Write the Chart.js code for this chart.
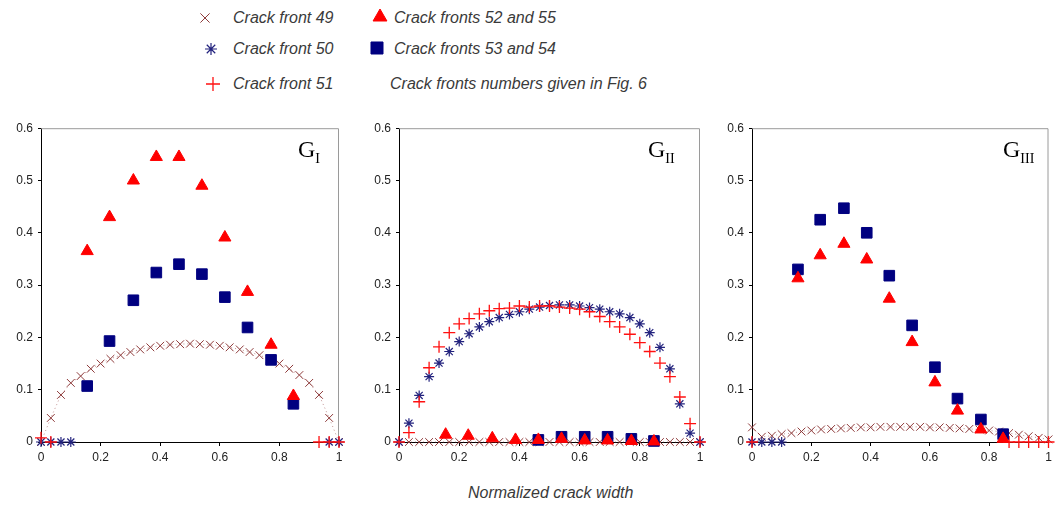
<!DOCTYPE html>
<html>
<head>
<meta charset="utf-8">
<script src="https://cdn.jsdelivr.net/npm/chart.js@4.4.1/dist/chart.umd.min.js"></script>
<style>
  body { margin: 0; background: #fff; width: 1058px; height: 506px; position: relative; overflow: hidden;
         font-family: Arial, 'Liberation Sans', sans-serif; }
  .panel { position: absolute; }
  .lg { position: absolute; font-style: italic; font-size: 16px; color: #3a3a3a; white-space: nowrap; line-height: 18px; }
  .sym { position: absolute; }
  .gt { position: absolute; font-family: 'Liberation Serif', 'Times New Roman', serif; font-size: 24px;
        color: #000; line-height: 1; white-space: nowrap; }
  .gt span { font-size: 14px; position: relative; top: 6px; }
  .xt { position: absolute; left: 468px; top: 484px; font-size: 16px; color: #3a3a3a; font-style: italic; }
</style>
</head>
<body>

<canvas class="sym" id="s49" width="20" height="20" style="left:195px;top:8px"></canvas>
<div class="lg" style="left:233px;top:9px">Crack front 49</div>
<canvas class="sym" id="s50" width="20" height="20" style="left:201px;top:39px"></canvas>
<div class="lg" style="left:233px;top:40px">Crack front 50</div>
<canvas class="sym" id="s51" width="24" height="24" style="left:201px;top:72px"></canvas>
<div class="lg" style="left:233px;top:75px">Crack front 51</div>
<canvas class="sym" id="s52" width="20" height="20" style="left:370px;top:7px"></canvas>
<div class="lg" style="left:394px;top:9px">Crack fronts 52 and 55</div>
<canvas class="sym" id="s53" width="20" height="20" style="left:367px;top:38px"></canvas>
<div class="lg" style="left:394px;top:40px">Crack fronts 53 and 54</div>
<div class="lg" style="left:390px;top:75px">Crack fronts numbers given in Fig. 6</div>

<div class="panel" id="p1"><canvas id="c1"></canvas></div>
<div class="panel" id="p2"><canvas id="c2"></canvas></div>
<div class="panel" id="p3"><canvas id="c3"></canvas></div>

<div class="gt" style="left:298px;top:137px">G<span>I</span></div>
<div class="gt" style="left:648px;top:137px">G<span>II</span></div>
<div class="gt" style="left:1003px;top:137px">G<span>III</span></div>

<div class="xt">Normalized crack width</div>

<script>
/* ── x positions along the normalized crack width ───────── */
const X_FRONT = [0, 0.033, 0.067, 0.1, 0.133, 0.167, 0.2, 0.233, 0.267, 0.3, 0.333, 0.367, 0.4, 0.433, 0.467,
                 0.5, 0.533, 0.567, 0.6, 0.633, 0.667, 0.7, 0.733, 0.767, 0.8, 0.833, 0.867, 0.9, 0.933, 0.967, 1];
const X_PAIR  = [0.155, 0.23, 0.31, 0.387, 0.463, 0.54, 0.617, 0.693, 0.772, 0.847];

const X_TICKS = [0, 0.2, 0.4, 0.6, 0.8, 1];
const Y_TICKS = [0, 0.1, 0.2, 0.3, 0.4, 0.5, 0.6];

/* ── G_I ─────────────────────────────────────────────────── */
const gI_f49 = [0, 0.046, 0.09, 0.113, 0.126, 0.14, 0.15, 0.159, 0.166, 0.172, 0.177, 0.181, 0.184, 0.186, 0.187,
                0.188, 0.187, 0.186, 0.184, 0.181, 0.177, 0.172, 0.166, 0.159, 0.15, 0.14, 0.128, 0.113, 0.09, 0.046, 0];
const gI_f50_x = [0, 0.033, 0.067, 0.1, 0.967, 1];
const gI_f50   = [0, 0, 0, 0, 0, 0];
const gI_f51_x = [0, 0.033, 0.933, 0.967, 1];
const gI_f51   = [0.008, 0, 0, 0, 0];
const gI_tri = [0.365, 0.43, 0.50, 0.545, 0.545, 0.49, 0.391, 0.287, 0.186, 0.088];
const gI_sq  = [0.107, 0.193, 0.271, 0.324, 0.34, 0.321, 0.277, 0.219, 0.157, 0.073];

/* ── G_II ────────────────────────────────────────────────── */
const gII_f49 = [0, 0, 0, 0, 0, 0, 0, 0, 0, 0, 0, 0, 0, 0, 0, 0, 0, 0, 0, 0, 0, 0, 0, 0, 0, 0, 0, 0, 0, 0, 0];
const gII_f50 = [0, 0.036, 0.089, 0.125, 0.151, 0.173, 0.192, 0.207, 0.220, 0.230, 0.238, 0.244, 0.249, 0.254, 0.258,
                 0.261, 0.262, 0.262, 0.260, 0.257, 0.254, 0.249, 0.245, 0.238, 0.226, 0.209, 0.181, 0.140, 0.073, 0.017, 0];
const gII_f51 = [0, 0.018, 0.077, 0.142, 0.182, 0.209, 0.226, 0.236, 0.245, 0.251, 0.255, 0.256, 0.26, 0.258, 0.26,
                 0.26, 0.258, 0.256, 0.254, 0.249, 0.24, 0.23, 0.22, 0.206, 0.19, 0.173, 0.151, 0.125, 0.086, 0.035, 0];
const gII_tri = [0.014, 0.012, 0.007, 0.004, 0.004, 0.006, 0.003, 0.003, 0.002, 0.001];
const gII_sq_x = [0.463, 0.54, 0.617, 0.693, 0.772, 0.847];
const gII_sq   = [0.004, 0.01, 0.01, 0.01, 0.006, 0.002];

/* ── G_III ───────────────────────────────────────────────── */
const gIII_f49 = [0.028, 0.01, 0.012, 0.015, 0.017, 0.02, 0.022, 0.024, 0.025, 0.026, 0.027, 0.028, 0.028, 0.029, 0.029,
                  0.029, 0.029, 0.029, 0.028, 0.028, 0.027, 0.026, 0.025, 0.024, 0.022, 0.02, 0.017, 0.014, 0.011, 0.008, 0.005];
const gIII_f50_x = [0, 0.033, 0.067, 0.1];
const gIII_f50   = [0, 0, 0, 0];
const gIII_f51_x = [0, 0.867, 0.9, 0.933, 0.967, 1];
const gIII_f51   = [0, 0, 0, 0, 0, 0];
const gIII_tri = [0.313, 0.357, 0.379, 0.349, 0.274, 0.191, 0.114, 0.06, 0.024, 0.006];
const gIII_sq  = [0.33, 0.425, 0.447, 0.4, 0.318, 0.223, 0.143, 0.083, 0.043, 0.015];

/* ── marker styles ───────────────────────────────────────── */
const STYLE = {
  f49: { pointStyle: 'crossRot', radius: 5.5, color: '#8e3b3b', fill: false, bw: 1 },
  f50: { pointStyle: 'star',     radius: 5,   color: '#23237e', fill: false, bw: 1.2 },
  f51: { pointStyle: 'cross',    radius: 6,   color: '#ff1010', fill: false, bw: 1.3 },
  tri: { pointStyle: 'triangle', radius: 7,   color: '#ff0000', fill: true,  bw: 1 },
  sq:  { pointStyle: 'rect',     radius: 7.5, color: '#000080', fill: true,  bw: 1 },
};

const zip = (xs, ys) => xs.map((x, i) => ({ x, y: ys[i] }));

function ds(key, xs, ys, line) {
  const s = STYLE[key];
  return {
    data: zip(xs, ys),
    pointStyle: s.pointStyle,
    pointRadius: s.radius,
    pointBorderColor: s.color,
    pointBackgroundColor: s.fill ? s.color : 'transparent',
    pointBorderWidth: s.bw,
    showLine: !!line,
    borderColor: 'rgba(142,59,59,.55)',
    borderWidth: 1,
    borderDash: [1, 3],
    clip: false,
  };
}

/* gray frame on top and right of plot area */
const frame = {
  id: 'frame',
  beforeDatasetsDraw(chart) {
    const a = chart.chartArea, c = chart.ctx;
    c.save();
    c.strokeStyle = '#9a9a9a';
    c.lineWidth = 1;
    c.beginPath();
    c.moveTo(a.left, a.top + 0.5);
    c.lineTo(a.right - 0.5, a.top + 0.5);
    c.lineTo(a.right - 0.5, a.bottom);
    c.stroke();
    c.restore();
  },
};

const fmt = v => {
  const r = Math.round(v * 10) / 10;
  return (r === 0 || r === 1) ? String(r) : r.toFixed(1);
};

function makePanel(wrapId, canvasId, left, right, padRight, datasets) {
  const YW = 40, XH = 34, TOP = 10;
  const wrap = document.getElementById(wrapId);
  wrap.style.left   = (left - YW) + 'px';
  wrap.style.top    = (126 - TOP) + 'px';
  wrap.style.width  = (right - left + YW + padRight) + 'px';
  wrap.style.height = (442 - 126 + TOP + XH) + 'px';

  new Chart(document.getElementById(canvasId), {
    type: 'scatter',
    data: { datasets },
    options: {
      responsive: true,
      maintainAspectRatio: false,
      animation: false,
      layout: { padding: { top: TOP, right: padRight, left: 0, bottom: 0 } },
      plugins: { legend: { display: false }, tooltip: { enabled: false } },
      scales: {
        x: {
          type: 'linear', min: 0, max: 1,
          afterBuildTicks: s => { s.ticks = X_TICKS.map(v => ({ value: v })); },
          afterFit: s => { s.height = XH; },
          grid: { drawOnChartArea: false, drawTicks: true, tickLength: 4, color: '#000' },
          border: { display: true, color: '#000', width: 1 },
          ticks: { color: '#222', font: { size: 12, family: 'Arial' }, padding: 4, callback: fmt, maxRotation: 0 },
        },
        y: {
          type: 'linear', min: 0, max: 0.6,
          afterBuildTicks: s => { s.ticks = Y_TICKS.map(v => ({ value: v })); },
          afterFit: s => { s.width = YW; },
          grid: { drawOnChartArea: false, drawTicks: true, tickLength: 3, color: '#000' },
          border: { display: true, color: '#000', width: 1 },
          ticks: { color: '#222', font: { size: 12, family: 'Arial' }, padding: 5, callback: fmt },
        },
      },
    },
    plugins: [frame],
  });
}

makePanel('p1', 'c1', 41, 339, 10, [
  ds('tri', X_PAIR, gI_tri),
  ds('sq',  X_PAIR, gI_sq),
  ds('f51', gI_f51_x, gI_f51),
  ds('f50', gI_f50_x, gI_f50),
  ds('f49', X_FRONT, gI_f49, true),
]);

makePanel('p2', 'c2', 399, 700, 10, [
  ds('tri', X_PAIR, gII_tri),
  ds('sq',  gII_sq_x, gII_sq),
  ds('f51', X_FRONT, gII_f51),
  ds('f50', X_FRONT, gII_f50),
  ds('f49', X_FRONT, gII_f49, true),
]);

makePanel('p3', 'c3', 752, 1053, 4, [
  ds('tri', X_PAIR, gIII_tri),
  ds('sq',  X_PAIR, gIII_sq),
  ds('f51', gIII_f51_x, gIII_f51),
  ds('f50', gIII_f50_x, gIII_f50),
  ds('f49', X_FRONT, gIII_f49, true),
]);

/* legend symbols, drawn with Chart.js's own point renderer */
function legendSym(id, key) {
  const cv = document.getElementById(id), c = cv.getContext('2d'), s = STYLE[key];
  c.strokeStyle = s.color;
  c.fillStyle = s.fill ? s.color : 'transparent';
  c.lineWidth = s.bw;
  Chart.helpers.drawPoint(c, { pointStyle: s.pointStyle, radius: s.radius + 1, rotation: 0, borderWidth: s.bw },
                          cv.width / 2, cv.height / 2);
}
legendSym('s49', 'f49');
legendSym('s50', 'f50');
legendSym('s51', 'f51');
legendSym('s52', 'tri');
legendSym('s53', 'sq');
</script>
</body>
</html>
